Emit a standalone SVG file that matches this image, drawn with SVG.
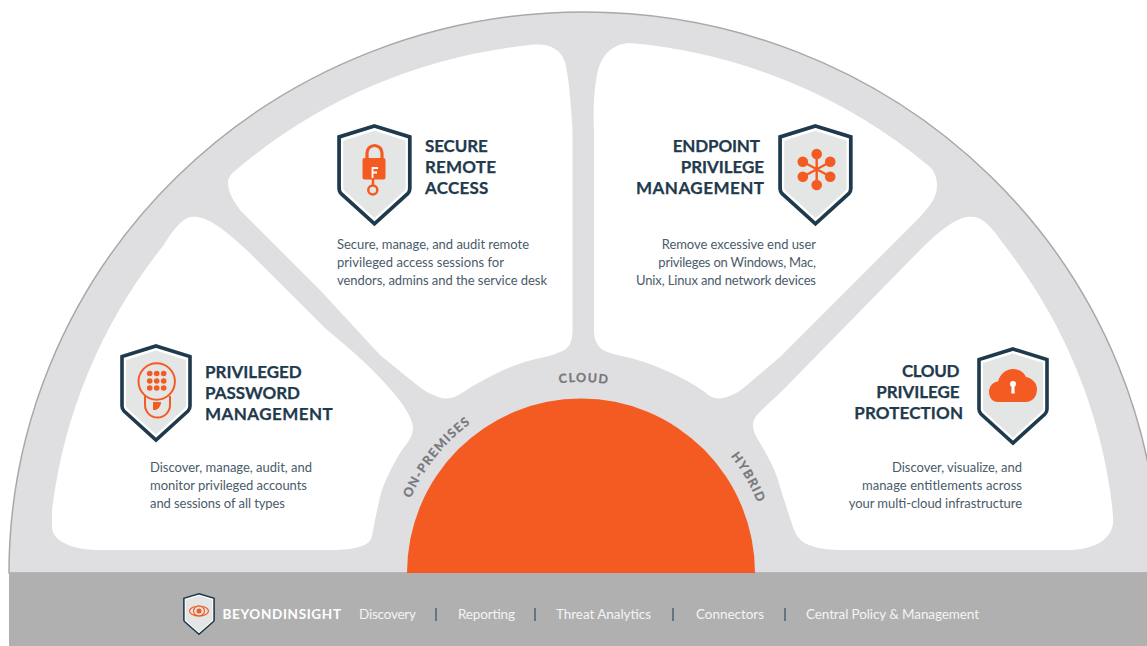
<svg xmlns="http://www.w3.org/2000/svg" width="1147" height="646" viewBox="0 0 1147 646">
<style>
.h{font-family:"Lato","Liberation Sans",sans-serif;font-weight:700;font-size:17px;fill:#1f3a4d;stroke:#1f3a4d;stroke-width:.25px}
.b{font-family:"Lato","Liberation Sans",sans-serif;font-size:13px;fill:#4a5b6a}
.e{text-anchor:end}
.f{font-family:"Lato","Liberation Sans",sans-serif;font-size:13.5px;fill:#f4f4f4}
.c{font-family:"Lato","Liberation Sans",sans-serif;font-weight:700;font-size:12.5px;fill:#77787b;stroke:#77787b;stroke-width:.25px;letter-spacing:1.3px;text-anchor:middle}
.o{fill:#f45b22}
.l{fill:none;stroke:#f45b22}
.w{fill:#fff}
.sep{stroke:#1f3a4d;stroke-width:1}
</style>
<defs>
<g id="shield">
<path d="M36 2 L70 12.500 V62 Q70 65 68 67 L36 96 L4 67 Q2 65 2 62 V12.500 Z" fill="#fff" stroke="#1f3a4d" stroke-width="3.600"/>
<path d="M36 6.500 L66 16 V61.500 Q66 63 64.500 64.500 L36 90.500 L7.500 64.500 Q6 63 6 61.500 V16 Z" fill="#e4e5e5"/>
</g>
<path id="arc-l" d="M395 573 A186 186 0 0 1 767 573"/>
<path id="arc-c" d="M390 573 A191 191 0 0 1 772 573"/>
<path id="arc-r" d="M391 573 A190 190 0 0 1 771 573"/>
</defs>
<rect width="1147" height="646" fill="#fff"/>
<g id="wheel">
<path d="M9 573 A575 561 0 0 1 1159 573 Z" fill="#dfdfe1" stroke="#a8a8a8" stroke-width="1.500"/>
<path id="wedge-1" class="w" d="M163 246 C172 232 182 217 193 216.700 C205 216 220 225 246.700 250 L326 329 L345 345 C370 366 413 408 413 428 C413 438 405 445 400 453 C390 470 383 485 380 497 C377 510 374 525 372 536 C371 541 366 546 355 548 C348 549.500 340 550 330 550 L95 550 C60 548 51 535 52 525 L52 510 A536 528 0 0 1 163 246 Z"/>
<path id="wedge-2" class="w" d="M236 170 A536 528 0 0 1 530 45 C548 43 560 48 565 62 C569 78 571 105 572.500 130 L572.500 330 C572.500 343 568 350 560 352 C555 354 550 356 545 357 C515 362 485 378 462 393 C455 397 450 399 445 398.500 C438 398 425 392 417 385 L380 355 L320 290 L240 210 C233 200 228 192 228 183 C228 177 232 173 236 170 Z"/>
<path id="wedge-3" class="w" d="M630 43 A536 528 0 0 1 930 167 C935 172 937 179 937 185 C937 192 935 197 932 202 C928 208 925 211 920 217 L780 357 L747 385 C738 393 728 398 720 398.500 C715 399 708 396 705 392 C680 375 650 362 622 356 C612 354 607 352 603 350 C597 346 594 340 594 330 L594 130 C593 110 594 90 597 75 C600 58 610 44 630 43 Z"/>
<path id="wedge-4" class="w" d="M1005 246 C995 232 985 217 972 216.700 C960 216 945 225 920 250 L785 388 C765 408 753 415 753 425 C753 432 756 436 760 443 C770 460 775 470 778 480 C783 497 789 515 793 527 C796 537 803 544 812 546 C820 549 830 550 845 550 L1070 550 C1095 549 1108 540 1112 528 C1114 522 1113 518 1112 505 A536 528 0 0 0 1005 246 Z"/>
</g>
<g id="connectors"/>
<g id="core">
<path d="M407 573 A174 174.500 0 0 1 755 573 Z" fill="#f45b22"/>
<text class="c"><textPath href="#arc-l" startOffset="21.500%">ON-PREMISES</textPath></text>
<text class="c"><textPath href="#arc-c" startOffset="50.500%">CLOUD</textPath></text>
<text class="c"><textPath href="#arc-r" startOffset="83.500%">HYBRID</textPath></text>
</g>
<g id="footer">
<rect x="9" y="573" width="1138" height="73" fill="#b0b0b0"/>
<g id="beyondinsight-logo">
<use href="#shield" transform="translate(183 593) scale(.444 .43)"/>
<ellipse cx="199" cy="611" rx="9.500" ry="5" class="l" stroke-width="1.200"/>
<ellipse cx="199" cy="611" rx="5.500" ry="5" class="l" stroke-width="1.200"/>
<circle cx="199" cy="611" r="2.500" class="o"/>
</g>
<text x="222.500" y="618.500" font-family="Lato, sans-serif" font-weight="700" font-size="13.500" fill="#fff" textLength="118.500">BEYONDINSIGHT</text>
<text class="f" x="359" y="619" textLength="57">Discovery</text>
<line class="sep" x1="436" y1="608" x2="436" y2="621"/>
<text class="f" x="458" y="619" textLength="57">Reporting</text>
<line class="sep" x1="535" y1="608" x2="535" y2="621"/>
<text class="f" x="556" y="619" textLength="95">Threat Analytics</text>
<line class="sep" x1="673" y1="608" x2="673" y2="621"/>
<text class="f" x="696" y="619" textLength="68">Connectors</text>
<line class="sep" x1="785" y1="608" x2="785" y2="621"/>
<text class="f" x="806" y="619" textLength="173">Central Policy &amp; Management</text>
</g>
<g id="node-password">
<use href="#shield" transform="translate(120 344)"/>
<circle cx="156.700" cy="381.500" r="18.200" class="l" stroke-width="2"/>
<path d="M145 396 V405 A12.500 12.500 0 0 0 170 405 V396" class="l" stroke-width="2"/>
<g class="o">
<circle cx="149.700" cy="373.500" r="2.800"/><circle cx="156.700" cy="373.500" r="2.800"/><circle cx="163.700" cy="373.500" r="2.800"/>
<circle cx="149.700" cy="381" r="2.800"/><circle cx="156.700" cy="381" r="2.800"/><circle cx="163.700" cy="381" r="2.800"/>
<circle cx="149.700" cy="388" r="2.800"/><circle cx="156.700" cy="388" r="2.800"/><circle cx="163.700" cy="388" r="2.800"/>
</g>
<path class="o" d="M153 402 H161 C161 406 158 410 155 410 L153 410 Z"/>
<text class="h" x="205" y="378" textLength="96.700">PRIVILEGED</text>
<text class="h" x="205" y="399" textLength="95">PASSWORD</text>
<text class="h" x="205" y="420" textLength="127.700">MANAGEMENT</text>
<text class="b" x="150" y="472" textLength="162">Discover, manage, audit, and</text>
<text class="b" x="150" y="490" textLength="157">monitor privileged accounts</text>
<text class="b" x="150" y="508" textLength="135">and sessions of all types</text>
</g>
<g id="node-remote">
<use href="#shield" transform="translate(337 124) scale(1.040)"/>
<path d="M367 160 V153 A7.500 7.500 0 0 1 382 153 V160" class="l" stroke-width="3.200"/>
<rect x="362.500" y="158" width="23" height="21.500" rx="2" class="o"/>
<path d="M372.500 178 V168 H378 M372.500 172.500 H377" fill="none" stroke="#fff" stroke-width="1.800"/>
<path d="M373 179 V186" class="l" stroke-width="2.500"/>
<circle cx="372.800" cy="190" r="4.500" class="l" stroke-width="2.500"/>
<text class="h" x="425" y="152" textLength="62.700">SECURE</text>
<text class="h" x="425" y="173" textLength="71">REMOTE</text>
<text class="h" x="425" y="194" textLength="63.300">ACCESS</text>
<text class="b" x="337" y="249" textLength="192">Secure, manage, and audit remote</text>
<text class="b" x="337" y="267" textLength="167">privileged access sessions for</text>
<text class="b" x="337" y="285" textLength="210">vendors, admins and the service desk</text>
</g>
<g id="node-endpoint">
<use href="#shield" transform="translate(778 124) scale(1.040)"/>
<path d="M816.700 154 V185 M803 161.700 L830.500 176.700 M803 176.700 L830.500 161.700" class="l" stroke-width="2.400"/>
<g class="o">
<circle cx="816.700" cy="154" r="5.300"/><circle cx="830.200" cy="161.700" r="5.300"/><circle cx="830.200" cy="176.700" r="5.300"/>
<circle cx="816.700" cy="185" r="5.300"/><circle cx="802.800" cy="176.700" r="5.300"/><circle cx="802.800" cy="161.700" r="5.300"/>
</g>
<text class="h e" x="760" y="152" textLength="87.300">ENDPOINT</text>
<text class="h e" x="764" y="173" textLength="83.300">PRIVILEGE</text>
<text class="h e" x="764" y="194" textLength="128">MANAGEMENT</text>
<text class="b e" x="816" y="249" textLength="154.300">Remove excessive end user</text>
<text class="b e" x="816" y="267" textLength="157.700">privileges on Windows, Mac,</text>
<text class="b e" x="816" y="285" textLength="180">Unix, Linux and network devices</text>
</g>
<g id="node-cloud">
<use href="#shield" transform="translate(977 347)"/>
<path class="o" d="M998 402 C992 402 989 397 989 392 C989 386 993 382 998 381.500 C1000 374 1006 369 1013 369 C1019 369 1024 372 1026 377 C1032 378 1037 383 1037 389 C1037 397 1032 402 1026 402 Z"/>
<circle cx="1013" cy="384" r="3" fill="#fff"/>
<path d="M1011.700 385 H1014.300 L1014.800 393.500 H1011.200 Z" fill="#fff"/>
<text class="h e" x="959.500" y="377" textLength="57.600">CLOUD</text>
<text class="h e" x="959.500" y="398" textLength="83.300">PRIVILEGE</text>
<text class="h e" x="963" y="419" textLength="108.700">PROTECTION</text>
<text class="b e" x="1022" y="472" textLength="130">Discover, visualize, and</text>
<text class="b e" x="1022" y="490" textLength="160">manage entitlements across</text>
<text class="b e" x="1022" y="508" textLength="173.300">your multi-cloud infrastructure</text>
</g>
</svg>
